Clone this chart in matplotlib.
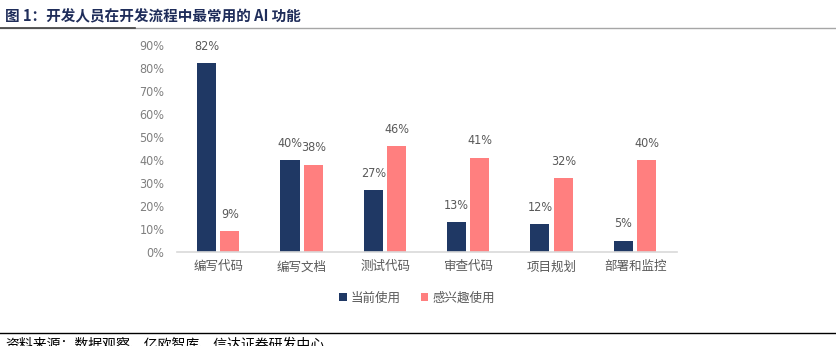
import matplotlib
matplotlib.use("Agg")
import matplotlib.pyplot as plt
import numpy as np
from matplotlib.lines import Line2D

plt.rcParams['font.family'] = ['Noto Sans CJK SC', 'DejaVu Sans']

categories = ["编写代码", "编写文档", "测试代码", "审查代码", "项目规划", "部署和监控"]
current_use = [82, 40, 27, 13, 12, 5]
interested = [9, 38, 46, 41, 32, 40]
series_names = ["当前使用", "感兴趣使用"]
yticks = [0, 10, 20, 30, 40, 50, 60, 70, 80, 90]

navy = "#1F3864"
pink = "#FF7F7F"
gray_txt = "#595959"
numfont = ["DejaVu Sans"]

fig = plt.figure(figsize=(8.37, 3.46), dpi=100)
W, H = 837, 346
ax = fig.add_axes([177 / W, 1 - 252 / H, 500 / W, 207 / H])

x = np.arange(len(categories))
w = 0.23
b1 = ax.bar(x - 0.145, current_use, width=w, color=navy, label=series_names[0])
b2 = ax.bar(x + 0.135, interested, width=w, color=pink, label=series_names[1])

for bars, vals in ((b1, current_use), (b2, interested)):
    for rect, v in zip(bars, vals):
        ax.text(rect.get_x() + rect.get_width() / 2, v + 4.5, f"{v}%", ha="center", va="bottom",
                fontsize=9, color=gray_txt, family=numfont, fontstretch="condensed")

ax.set_xlim(-0.5, len(categories) - 0.5)
ax.set_ylim(0, 90)
ax.set_yticks(yticks)
ax.set_yticklabels([f"{t}%" for t in yticks], fontsize=9, color="#7F7F7F", family=numfont,
                   fontstretch="condensed")
ax.set_xticks(x)
ax.set_xticklabels(categories, fontsize=9, color=gray_txt)
ax.tick_params(axis="both", length=0)
ax.tick_params(axis="x", pad=6)
ax.tick_params(axis="y", pad=9)
for s in ["top", "right", "left"]:
    ax.spines[s].set_visible(False)
ax.spines["bottom"].set_color("#D9D9D9")
ax.spines["bottom"].set_linewidth(1.2)

ax.legend(loc="center", bbox_to_anchor=(417 / W, 1 - 298 / H), bbox_transform=fig.transFigure,
          ncol=2, frameon=False, fontsize=9, handlelength=0.6, handleheight=0.6,
          handletextpad=0.3, columnspacing=1.6, labelcolor=gray_txt)

fig.text(5 / W, 1 - 16 / H, "图 1：开发人员在开发流程中最常用的 AI 功能", fontsize=10.5, fontweight="bold",
         color="#1F2D5A", va="center", ha="left")
fig.add_artist(Line2D([0, 1], [1 - 28 / H, 1 - 28 / H], transform=fig.transFigure, color="#A6A6A6", lw=1))
fig.add_artist(Line2D([0, 135 / W], [1 - 28 / H, 1 - 28 / H], transform=fig.transFigure, color="#404040", lw=1.2))
fig.add_artist(Line2D([0, 1], [1 - 333 / H, 1 - 333 / H], transform=fig.transFigure, color="#000000", lw=1))
fig.text(5 / W, 1 - 344 / H, "资料来源：数据观察、亿欧智库、信达证券研发中心", fontsize=10, style="italic",
         color="#000000", va="center", ha="left")

fig.savefig("out.png", dpi=100)
